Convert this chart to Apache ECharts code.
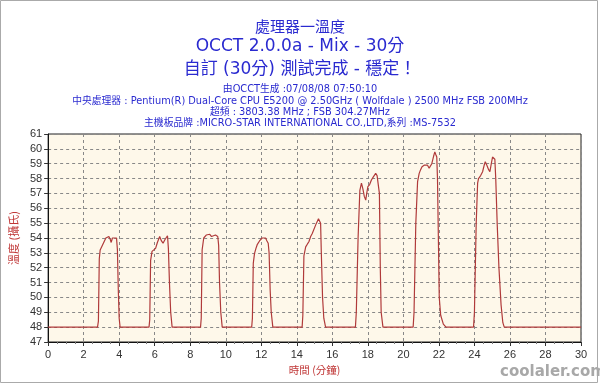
<!DOCTYPE html>
<html>
<head>
<meta charset="utf-8">
<script src="https://cdn.jsdelivr.net/npm/echarts@6/dist/echarts.min.js"></script>
<style>
html,body{margin:0;padding:0;background:#fff;}
#c{width:600px;height:386px;}
</style>
</head>
<body>
<div id="c"></div>
<script>
var titleLines = ['處理器一溫度', 'OCCT 2.0.0a - Mix - 30分', '自訂 (30分) 測試完成 - 穩定！'];
var infoLines = [
  '由OCCT生成 :07/08/08 07:50:10',
  '中央處理器 : Pentium(R) Dual-Core CPU E5200 @ 2.50GHz ( Wolfdale ) 2500 MHz FSB 200MHz',
  '超頻 : 3803.38 MHz ; FSB 304.27MHz',
  '主機板品牌 :MICRO-STAR INTERNATIONAL CO.,LTD,系列 :MS-7532'
];
var xAxisName = '時間 (分鐘)';
var yAxisName = '溫度 (攝氏)';

// time in minutes
var times = [
  0, 2.78, 2.83, 2.88, 2.93, 3.05, 3.15, 3.25, 3.35, 3.42, 3.5, 3.55, 3.62, 3.72, 3.85, 3.9, 3.95, 4.0, 4.05,
  5.68, 5.72, 5.77, 5.85, 5.95, 6.05, 6.15, 6.28, 6.38, 6.47, 6.58, 6.72, 6.77, 6.83, 6.9, 6.98,
  8.58, 8.62, 8.67, 8.76, 8.9, 9.0, 9.1, 9.2, 9.3, 9.42, 9.55, 9.6, 9.65, 9.72, 9.8,
  11.46, 11.5, 11.55, 11.62, 11.7, 11.77, 11.9, 12.05, 12.15, 12.24, 12.32, 12.39, 12.44, 12.5, 12.56, 12.65,
  14.3, 14.34, 14.4, 14.5, 14.6, 14.68, 14.78, 14.87, 14.97, 15.07, 15.15, 15.22, 15.3, 15.34, 15.38, 15.45, 15.52, 15.62,
  17.3, 17.35, 17.45, 17.55, 17.64, 17.72, 17.8, 17.88, 17.95, 18.0, 18.1, 18.2, 18.3, 18.38, 18.44, 18.52, 18.6, 18.65, 18.7, 18.75, 18.85,
  20.55, 20.6, 20.7, 20.8, 20.89, 20.97, 21.05, 21.17, 21.28, 21.36, 21.45, 21.52, 21.6, 21.7, 21.77, 21.83, 21.88, 21.92, 21.97, 22.02, 22.1, 22.25, 22.4,
  23.95, 24.0, 24.1, 24.18, 24.23, 24.35, 24.46, 24.55, 24.61, 24.7, 24.8, 24.87, 24.95, 25.02, 25.1, 25.15, 25.2, 25.28, 25.38, 25.5, 25.6, 25.68, 30
];
// CPU temperature, °C
var temps = [
  48, 48, 48.4, 52.6, 53.2, 53.5, 53.6, 54.0, 53.9, 54.1, 53.9, 53.7, 54.0, 54.0, 54.0, 53.2, 50.5, 48.6, 48,
  48, 48.5, 52.5, 53.1, 53.2, 53.3, 53.7, 54.1, 53.8, 53.65, 53.9, 54.15, 53.3, 51, 49, 48,
  48, 48.6, 53.2, 54.0, 54.2, 54.15, 54.25, 54.1, 54.05, 54.2, 54.1, 53.5, 51, 49, 48,
  48, 48.6, 52.3, 52.97, 53.3, 53.55, 53.8, 54.0, 53.95, 54.0, 53.8, 53.65, 53.0, 50.5, 49, 48,
  48, 48.8, 52.8, 53.4, 53.6, 53.75, 54.1, 54.3, 54.4, 54.9, 55.0, 55.3, 55.4, 55.0, 53, 50, 48.6, 48,
  48, 49, 54, 57.2, 57.7, 57.3, 56.8, 56.55, 57.1, 57.45, 57.6, 57.9, 58.1, 58.1, 58.35, 58.2, 58.1, 57, 52, 49, 48,
  48, 49, 55, 57.8, 58.35, 58.6, 58.8, 58.9, 58.9, 58.9, 58.7, 58.7, 59.0, 59.5, 59.8, 59.6, 59.45, 58, 54, 50, 48.8, 48.2, 48,
  48, 49, 55, 57.7, 58.0, 58.2, 58.46, 58.9, 59.13, 58.9, 58.6, 58.46, 59.0, 59.45, 59.45, 59.3, 58, 55, 52, 49.5, 48.3, 48, 48
];
var xMin = 0, xMax = 30, xStep = 2;
var yMin = 47, yMax = 61, yStep = 1;

var seriesData = times.map(function (t, i) { return [t, temps[i]]; });

var blue = '#2a2ad0';
var red = '#c03838';
var chart = echarts.init(document.getElementById('c'), null, {renderer: 'canvas'});

var titles = [
  {text: titleLines[0], top: 21, size: 15},
  {text: titleLines[1], top: 38, size: 17},
  {text: titleLines[2], top: 61, size: 17}
].map(function (o) {
  return {text: o.text, left: 'center', top: o.top, padding: 0,
    textStyle: {color: blue, fontSize: o.size, fontWeight: 'normal', fontFamily: 'DejaVu Sans, Noto Sans CJK TC'}};
});
var infoTops = [84.5, 96.5, 107.5, 118.5];
infoLines.forEach(function (t, i) {
  titles.push({text: t, left: 'center', top: infoTops[i], padding: 0,
    textStyle: {color: blue, fontSize: 9.8, fontWeight: 'normal', fontFamily: 'DejaVu Sans, Noto Sans CJK TC'}});
});

chart.setOption({
  animation: false,
  backgroundColor: '#ffffff',
  title: titles,
  grid: {left: 48, right: 19, top: 134, bottom: 44, show: true, backgroundColor: '#fef8ea', borderColor: '#222', borderWidth: 1},
  xAxis: {
    type: 'value', min: xMin, max: xMax, interval: xStep,
    name: xAxisName, nameLocation: 'middle', nameGap: 19,
    nameTextStyle: {color: red, fontSize: 10.5, fontFamily: 'Noto Sans CJK TC'},
    axisLine: {show: true, lineStyle: {color: '#111'}},
    axisTick: {show: true, length: 4, lineStyle: {color: '#333'}},
    minorTick: {show: true, splitNumber: 4, length: 2, lineStyle: {color: '#777'}},
    axisLabel: {color: '#333', fontSize: 11, margin: 7, fontFamily: 'Liberation Sans'},
    splitLine: {show: true, lineStyle: {color: '#888', type: [3, 3], width: 1}}
  },
  yAxis: {
    type: 'value', min: yMin, max: yMax, interval: yStep,
    name: yAxisName, nameLocation: 'middle', nameGap: 20, nameRotate: 90,
    nameTextStyle: {color: red, fontSize: 11, fontFamily: 'Noto Sans CJK TC'},
    axisLine: {show: true, lineStyle: {color: '#111'}},
    axisTick: {show: true, length: 4, lineStyle: {color: '#333'}},
    axisLabel: {color: '#333', fontSize: 11, margin: 6, fontFamily: 'Liberation Sans'},
    splitLine: {show: true, lineStyle: {color: '#888', type: [3, 3], width: 1}}
  },
  series: [{
    type: 'line', data: seriesData, showSymbol: false, symbol: 'none',
    lineStyle: {color: '#b03a3a', width: 1.2}
  }],
  graphic: [
    {type: 'rect', shape: {x: 0.5, y: 0.5, width: 597, height: 382}, style: {fill: 'none', stroke: '#aaa', lineWidth: 1}, silent: true},
    {type: 'text', left: 500, top: 365, style: {text: 'coolaler.com', fill: '#a8a8a8', font: 'bold 15px DejaVu Sans'}, silent: true}
  ]
});
</script>
</body>
</html>
